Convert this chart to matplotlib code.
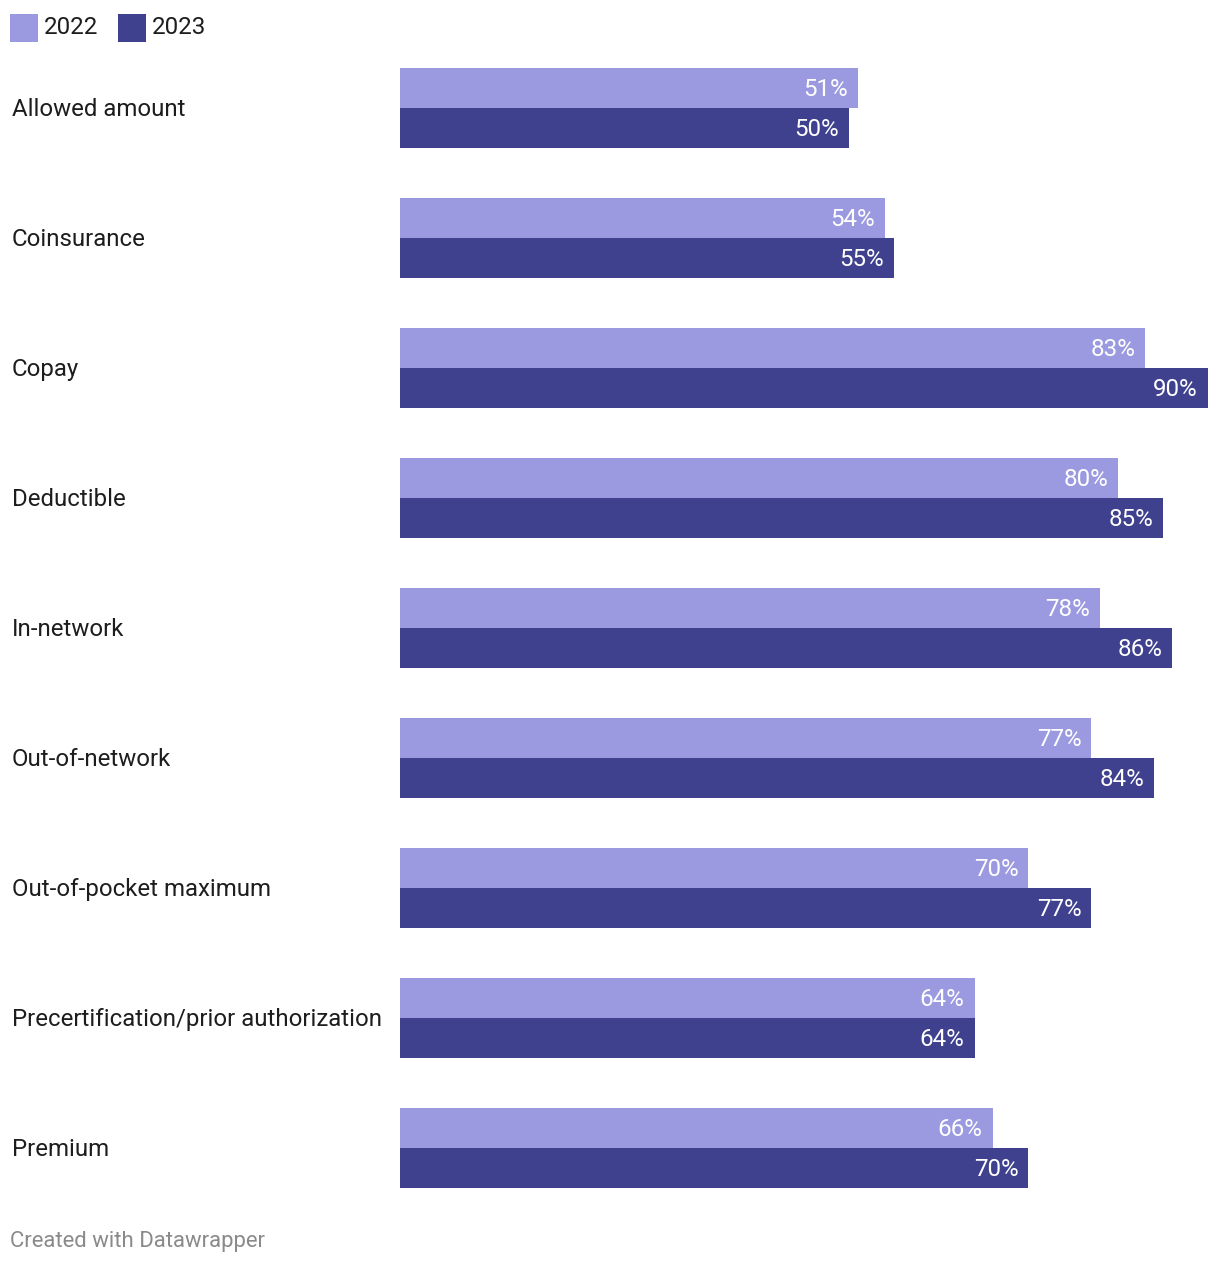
import matplotlib.pyplot as plt
from matplotlib.patches import Rectangle

plt.rcParams['font.family'] = ['Roboto', 'DejaVu Sans']

categories = ["Allowed amount", "Coinsurance", "Copay", "Deductible", "In-network",
              "Out-of-network", "Out-of-pocket maximum",
              "Precertification/prior authorization", "Premium"]
vals_2022 = [51, 54, 83, 80, 78, 77, 70, 64, 66]
vals_2023 = [50, 55, 90, 85, 86, 84, 77, 64, 70]
series_names = ["2022", "2023"]
colors = ["#9b9ae0", "#3f418f"]

W, H = 1220, 1266
fig = plt.figure(figsize=(W / 100, H / 100), dpi=100)

# plot area in pixels: x 400..1208, y 68..1188
ax = fig.add_axes([400 / W, 1 - 1188 / H, 808 / W, 1120 / H])
ax.set_xlim(0, 90)
ax.set_ylim(1120, 0)
ax.axis("off")

pitch = 130
bar_h = 40
for i, cat in enumerate(categories):
    top = i * pitch
    for j, vals in enumerate([vals_2022, vals_2023]):
        yc = top + bar_h / 2 + j * bar_h
        ax.barh(yc, vals[i], height=bar_h, color=colors[j], linewidth=0)
        ax.annotate(f"{vals[i]}%", (vals[i], yc), xytext=(-10, 1),
                    textcoords="offset pixels", ha="right", va="center_baseline",
                    color="white", fontsize=17.4)
    fig.text(12 / W, 1 - (67 + top + bar_h) / H, cat, ha="left", va="center_baseline",
             fontsize=17.3, color="#1d1d1d")

# legend
x0 = 10
for name, c in zip(series_names, colors):
    fig.patches.append(Rectangle((x0 / W, 1 - 42 / H), 28 / W, 28 / H,
                                 transform=fig.transFigure, color=c, linewidth=0))
    fig.text((x0 + 34) / W, 1 - 25 / H, name, ha="left", va="center_baseline",
             fontsize=17.4, color="#1d1d1d")
    x0 += 108

fig.text(10 / W, 1 - 1239 / H, "Created with Datawrapper", ha="left",
         va="center_baseline", fontsize=15.9, color="#8a8a8a")

fig.savefig("out.png", dpi=100, facecolor="white")
